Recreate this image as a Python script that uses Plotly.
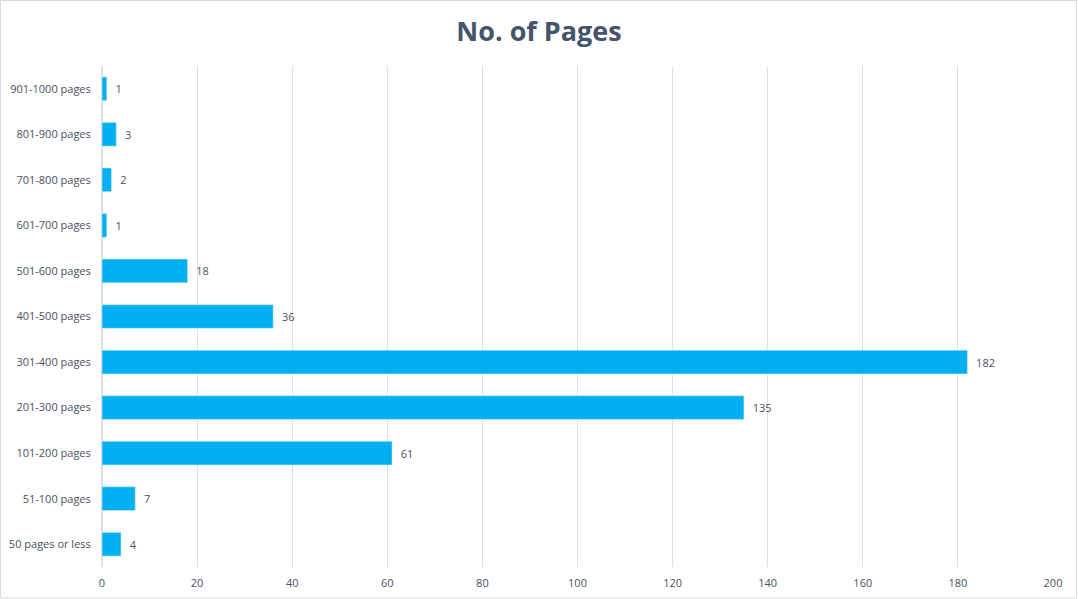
import plotly.graph_objects as go

# page ranges, bottom to top as drawn
categories = ["50 pages or less", "51-100 pages", "101-200 pages", "201-300 pages",
              "301-400 pages", "401-500 pages", "501-600 pages", "601-700 pages",
              "701-800 pages", "801-900 pages", "901-1000 pages"]
counts = [4, 7, 61, 135, 182, 36, 18, 1, 2, 3, 1]
x_ticks = [0, 20, 40, 60, 80, 100, 120, 140, 160, 180, 200]

txt = "#4a5160"

fig = go.Figure()
fig.add_trace(go.Bar(
    x=counts, y=categories, orientation="h",
    marker_color="#00B0F0", width=0.52,
    texttemplate="  %{x}", textposition="outside",
    textfont=dict(size=11, color=txt),
    cliponaxis=False,
))

fig.update_layout(
    width=1078, height=599,
    margin=dict(l=102, r=25, t=66, b=32),
    plot_bgcolor="white", paper_bgcolor="white",
    font=dict(family="Open Sans, sans-serif", size=11, color=txt),
    title=dict(text="<b>No. of Pages</b>", x=0.5, xanchor="center", y=0.948, yanchor="middle",
               font=dict(size=27, color="#44546A")),
    showlegend=False,
    bargap=0.48,
)
fig.update_xaxes(range=[0, 200], tickvals=x_ticks, showgrid=True, gridcolor="#DDE0E6",
                 zeroline=True, zerolinecolor="#DDE0E6", showline=False,
                 ticks="outside", ticklen=6, tickcolor="white", automargin=False,
                 tickfont=dict(size=11, color=txt), fixedrange=True)
fig.update_yaxes(categoryorder="array", categoryarray=categories, showgrid=False,
                 ticks="outside", ticklen=8, tickcolor="white", automargin=False,
                 tickfont=dict(size=11, color=txt), fixedrange=True)

# thin border round the whole chart
fig.add_shape(type="rect", xref="paper", yref="paper",
              x0=-0.1068, x1=1.0247, y0=-0.0619, y1=1.1307,
              line=dict(color="#D9D9D9", width=1), layer="below")

# drop the default page margin so the chart sits at the window corner
fig.write_html("out.html", config={"displayModeBar": False},
               post_script="document.body.style.margin='0';")
